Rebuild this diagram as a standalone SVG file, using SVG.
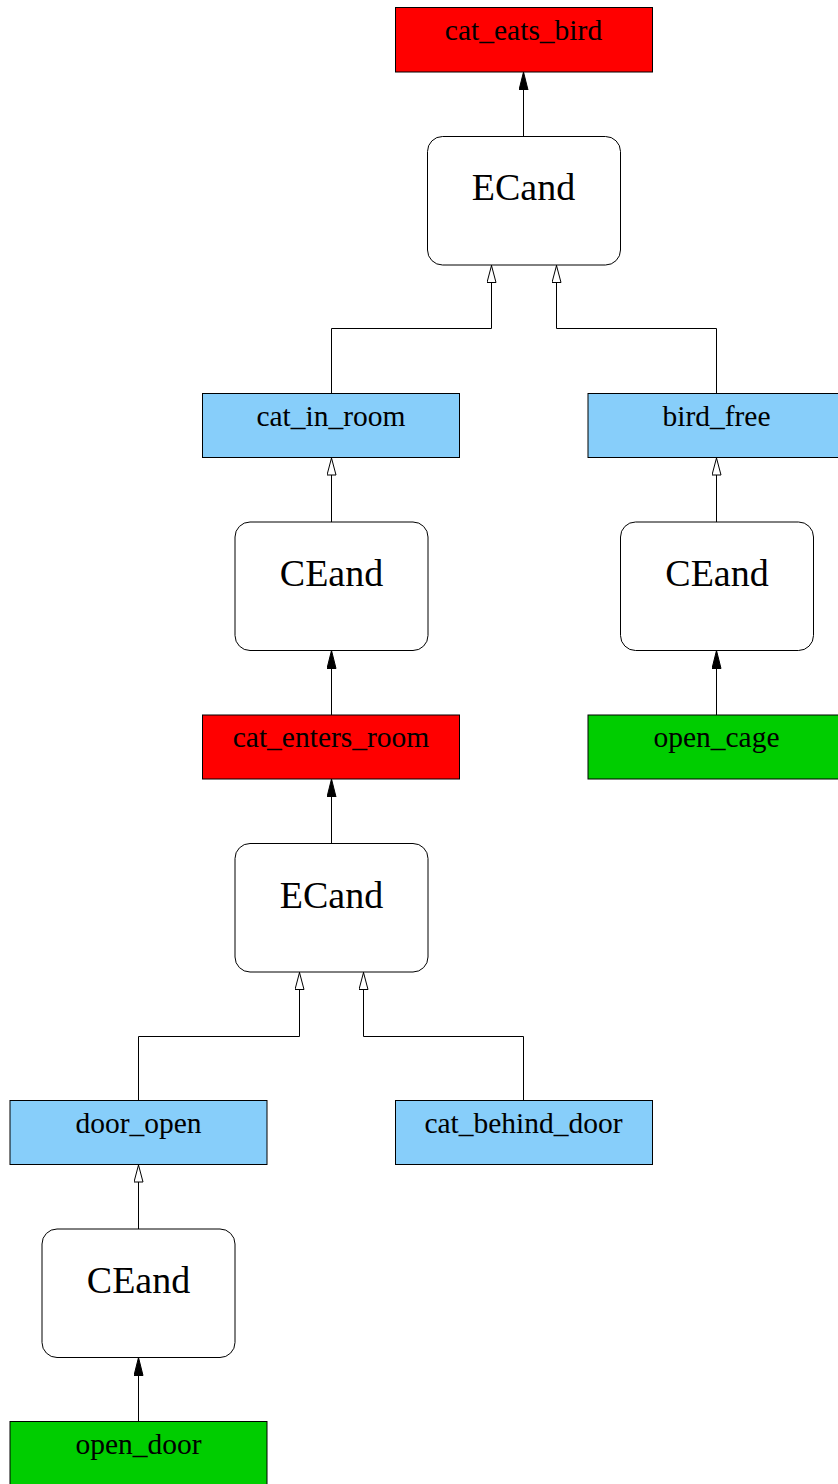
<svg xmlns="http://www.w3.org/2000/svg" width="838" height="1484" viewBox="0 0 838 1484">
  <style>
    .box { stroke: #000; stroke-width: 1; }
    .fact { fill: #87cefa; }
    .event { fill: #ff0000; }
    .action { fill: #00cd00; }
    .op { fill: #fff; stroke: #000; stroke-width: 1; }
    .lbl { font-family: "Liberation Serif", "Times New Roman", serif; font-size: 29.5px; text-anchor: middle; fill: #000; }
    .oplbl { font-family: "Liberation Serif", "Times New Roman", serif; font-size: 38px; text-anchor: middle; fill: #000; }
    .edge { fill: none; stroke: #000; stroke-width: 1; }
  </style>
  <defs>
    <marker id="filled" viewBox="0 0 18 10" refX="18" refY="5" markerWidth="18" markerHeight="10" markerUnits="userSpaceOnUse" orient="auto">
      <path d="M0,0.5 L18,5 L0,9.5 Z" fill="#000" stroke="#000" stroke-width="1"/>
    </marker>
    <marker id="hollow" viewBox="0 0 18 10" refX="18" refY="5" markerWidth="18" markerHeight="10" markerUnits="userSpaceOnUse" orient="auto">
      <path d="M0.5,0.5 L17.5,5 L0.5,9.5 Z" fill="#fff" stroke="#000" stroke-width="1"/>
    </marker>
  </defs>

  <!-- connectors -->
  <g id="edges">
    <path class="edge" marker-end="url(#filled)" d="M523.5,136.5 V72"/>
    <path class="edge" marker-end="url(#hollow)" d="M331.5,393.5 V328.5 H491.5 V265"/>
    <path class="edge" marker-end="url(#hollow)" d="M716.5,393.5 V328.5 H556.5 V265"/>
    <path class="edge" marker-end="url(#hollow)" d="M331.5,522 V457.5"/>
    <path class="edge" marker-end="url(#hollow)" d="M716.5,522 V457.5"/>
    <path class="edge" marker-end="url(#filled)" d="M331.5,715 V650.5"/>
    <path class="edge" marker-end="url(#filled)" d="M716.5,715 V650.5"/>
    <path class="edge" marker-end="url(#filled)" d="M331.5,843.5 V779"/>
    <path class="edge" marker-end="url(#hollow)" d="M138.5,1100.5 V1036.5 H299.5 V972"/>
    <path class="edge" marker-end="url(#hollow)" d="M523.5,1100.5 V1036.5 H363.5 V972"/>
    <path class="edge" marker-end="url(#hollow)" d="M138.5,1229 V1164.5"/>
    <path class="edge" marker-end="url(#filled)" d="M138.5,1421.5 V1357.5"/>
  </g>

  <!-- nodes -->
  <g id="cat_eats_bird">
    <rect class="box event" x="395.5" y="7.5" width="257" height="64.5"/>
    <text class="lbl" x="523.5" y="39.5">cat_eats_bird</text>
  </g>
  <g id="ecand_top">
    <rect class="op" x="427.5" y="136.5" width="193" height="128.5" rx="15" ry="15"/>
    <text class="oplbl" x="523.5" y="200">ECand</text>
  </g>
  <g id="cat_in_room">
    <rect class="box fact" x="202.5" y="393.5" width="257" height="64"/>
    <text class="lbl" x="331" y="425.5">cat_in_room</text>
  </g>
  <g id="bird_free">
    <rect class="box fact" x="588" y="393.5" width="257" height="64"/>
    <text class="lbl" x="716.5" y="425.5">bird_free</text>
  </g>
  <g id="ceand_room">
    <rect class="op" x="235" y="522" width="193" height="128.5" rx="15" ry="15"/>
    <text class="oplbl" x="331.5" y="586">CEand</text>
  </g>
  <g id="ceand_cage">
    <rect class="op" x="620.5" y="522" width="193" height="128.5" rx="15" ry="15"/>
    <text class="oplbl" x="717" y="586">CEand</text>
  </g>
  <g id="cat_enters_room">
    <rect class="box event" x="202.5" y="715" width="257" height="64"/>
    <text class="lbl" x="331" y="747">cat_enters_room</text>
  </g>
  <g id="open_cage">
    <rect class="box action" x="588" y="715" width="257" height="64"/>
    <text class="lbl" x="716.5" y="747">open_cage</text>
  </g>
  <g id="ecand_mid">
    <rect class="op" x="235" y="843.5" width="193" height="128.5" rx="15" ry="15"/>
    <text class="oplbl" x="331.5" y="907.5">ECand</text>
  </g>
  <g id="door_open">
    <rect class="box fact" x="10" y="1100.5" width="257" height="64"/>
    <text class="lbl" x="138.5" y="1132.5">door_open</text>
  </g>
  <g id="cat_behind_door">
    <rect class="box fact" x="395.5" y="1100.5" width="257" height="64"/>
    <text class="lbl" x="523.5" y="1132.5">cat_behind_door</text>
  </g>
  <g id="ceand_door">
    <rect class="op" x="42" y="1229" width="193" height="128.5" rx="15" ry="15"/>
    <text class="oplbl" x="138.5" y="1293">CEand</text>
  </g>
  <g id="open_door">
    <rect class="box action" x="10" y="1421.5" width="257" height="64"/>
    <text class="lbl" x="138.5" y="1453.5">open_door</text>
  </g>
</svg>
